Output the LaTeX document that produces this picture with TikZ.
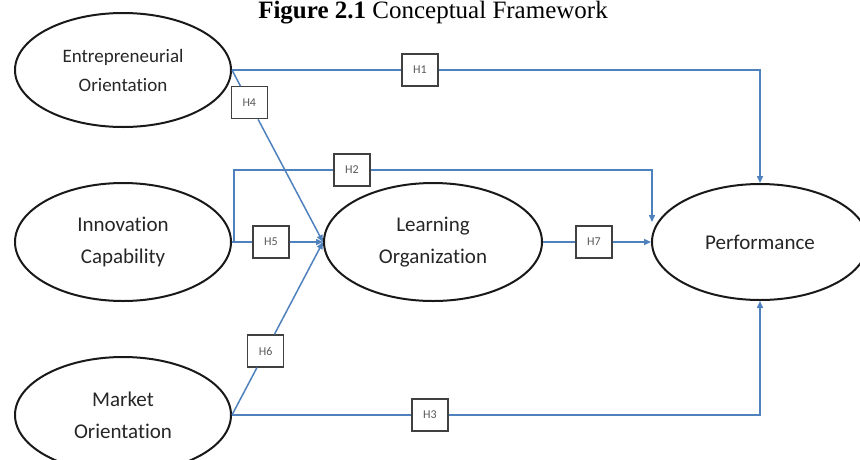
\documentclass[tikz,border=0pt]{standalone}
\usepackage{fontspec}
\setmainfont{Carlito}[Ligatures={NoCommon}]
\newfontfamily\titlefont{Liberation Serif}
\usetikzlibrary{shapes.geometric,arrows.meta,calc}
\definecolor{linkblue}{RGB}{79,129,189}
\tikzset{
  construct/.style={ellipse,draw=black!90,line width=2pt,minimum width=216pt,minimum height=116pt,inner sep=0pt,align=center,text=black!85,font=\fontsize{21}{32}\selectfont},
  hbox/.style={draw=black!75,line width=1.3pt,fill=white,minimum width=36pt,minimum height=32pt,inner sep=0pt,text=black!65,font=\fontsize{12}{14}\selectfont},
  conn/.style={draw=linkblue,line width=1.5pt},
  arr/.style={conn,-{Triangle[length=7pt,width=6pt]}}
}
\begin{document}
\begin{tikzpicture}[x=1pt,y=-1pt]
\useasboundingbox (0,0) rectangle (860,459);
\clip (0,0) rectangle (860,459);
\node[anchor=base,font=\titlefont\fontsize{25}{30}\selectfont] (title) at (433,18) {\textbf{Figure 2.1} Conceptual Framework};
\node[construct,minimum height=114pt,font=\fontsize{19}{29}\selectfont] (EO) at (123,70) {Entrepreneurial\\Orientation};
\node[construct,minimum height=118pt] (IC) at (123,242) {Innovation\\Capability};
\node[construct] (MO) at (123,415) {Market\\Orientation};
\node[construct,minimum width=218pt,minimum height=118pt] (LO) at (433,242) {Learning\\Organization};
\node[construct] (PF) at (760,242) {Performance};
\coordinate (h2top) at (234,170);
\coordinate (h2end) at (652,222);
% boxes placed on the paths
\node[hbox] (h1) at (420,70) {H1};
\path (EO.east) -- (LO.west) node[hbox,pos=0.19] (h4) {H4};
\node[hbox] (h2) at (352,170) {H2};
\node[hbox] (h5) at (271,242) {H5};
\path (MO.east) -- (LO.west) node[hbox,pos=0.37] (h6) {H6};
\node[hbox] (h3) at (430,415) {H3};
\node[hbox] (h7) at (594,242) {H7};
% connectors
\draw[conn] (EO.east) -- (h1.west);
\draw[arr] (h1.east) -| (PF.north);
\draw[conn] (EO.east) -- (h4);
\draw[arr] (h4) -- (LO.west);
\draw[conn] (IC.east) -| (h2top) -- (h2.west);
\draw[arr] (h2.east) -| (h2end);
\draw[conn] (IC.east) -- (h5.west);
\draw[arr] (h5.east) -- (LO.west);
\draw[conn] (MO.east) -- (h6);
\draw[arr] (h6) -- (LO.west);
\draw[conn] (MO.east) -- (h3.west);
\draw[arr] (h3.east) -| (PF.south);
\draw[conn] (LO.east) -- (h7.west);
\draw[arr] (h7.east) -- (PF.west);
\end{tikzpicture}
\end{document}
